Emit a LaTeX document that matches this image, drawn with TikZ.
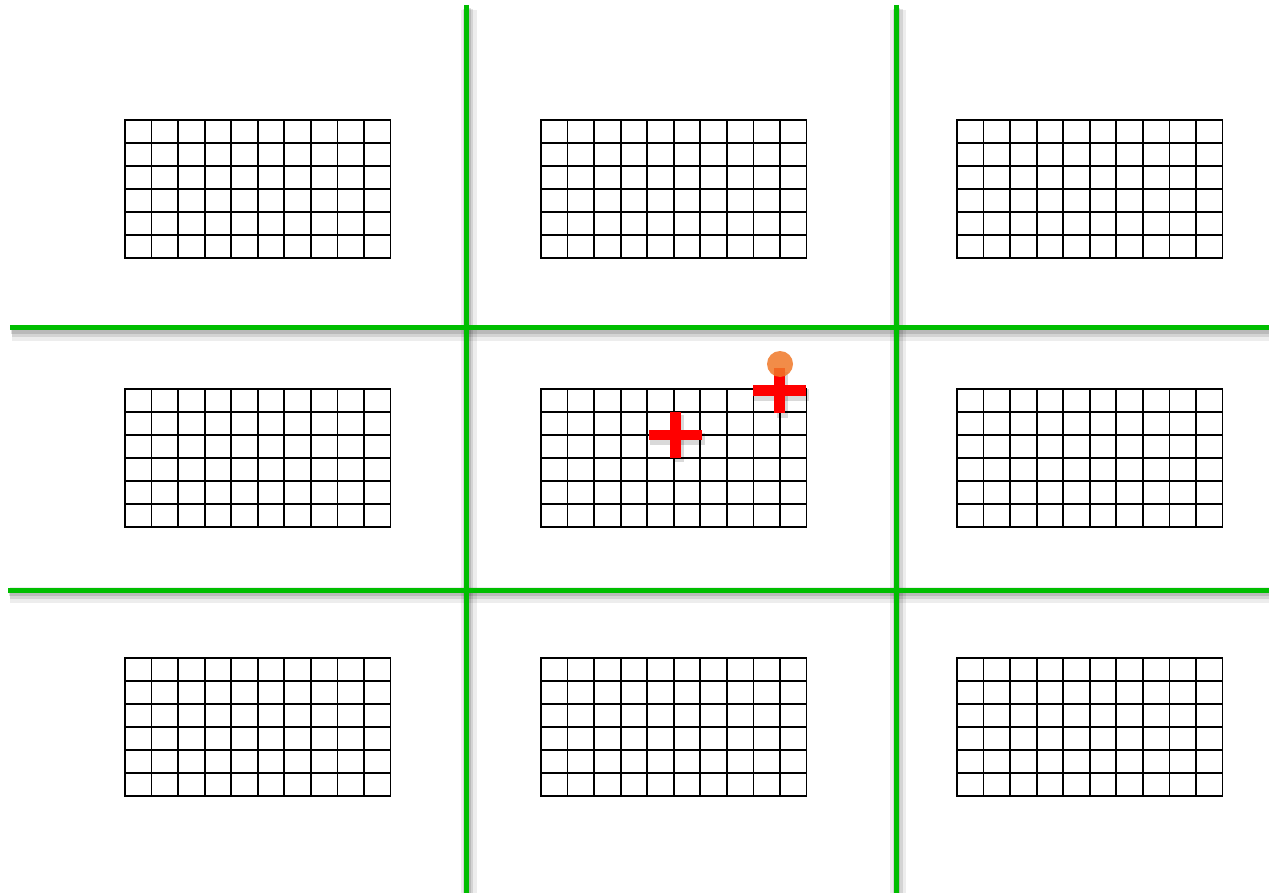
\documentclass[tikz,border=0pt]{standalone}
\begin{document}
\begin{tikzpicture}[x=1pt,y=-1pt,
  gridline/.style={black,line width=1.8pt},
  greenline/.style={draw={rgb,255:red,0;green,190;blue,0},line width=5pt},
  shadowA/.style={draw=black,opacity=0.07,line width=16pt},
  shadowB/.style={draw=black,opacity=0.10,line width=10pt},
  shadowC/.style={draw=black,opacity=0.12,line width=6pt},
  redbar/.style={fill={rgb,255:red,255;green,0;blue,0},draw=none},
  redshadow/.style={fill=black,opacity=0.15,draw=none},
  dotstyle/.style={fill={rgb,255:red,240;green,120;blue,40},fill opacity=0.85,draw=none}]
\useasboundingbox (0,0) rectangle (1269,893);
\fill[white] (0,0) rectangle (1269,893);
% grids
\foreach \gx in {125,541,957}{
  \foreach \gy in {120,389,658}{
    \foreach \i in {1,...,9}{
      \draw[gridline] (\gx+\i*26.55,\gy) -- ++(0,138);
    }
    \foreach \j in {1,...,5}{
      \draw[gridline] (\gx,\gy+\j*23) -- ++(265.5,0);
    }
    \draw[gridline] (\gx,\gy) rectangle ++(265.5,138);
  }
}
% green line shadows
\coordinate (v1t) at (466.5,5); \coordinate (v1b) at (466.5,893);
\coordinate (v2t) at (896,5); \coordinate (v2b) at (896,893);
\coordinate (h1l) at (10,328); \coordinate (h1r) at (1269,328);
\coordinate (h2l) at (8,590); \coordinate (h2r) at (1269,590);
\foreach \a/\b in {v1t/v1b,v2t/v2b,h1l/h1r,h2l/h2r}{
  \draw[shadowA] ([shift={(2,5)}]\a) -- ([shift={(2,5)}]\b);
  \draw[shadowB] ([shift={(1.5,4)}]\a) -- ([shift={(1.5,4)}]\b);
  \draw[shadowC] ([shift={(1,3)}]\a) -- ([shift={(1,3)}]\b);
}
% green lines
\draw[greenline] (v1t) -- (v1b);
\draw[greenline] (v2t) -- (v2b);
\draw[greenline] (h1l) -- (h1r);
\draw[greenline] (h2l) -- (h2r);
% cross 1
\coordinate (c1) at (675.5,435);
\fill[redshadow] ([shift={(-26,-2)}]c1) rectangle ([shift={(29,10)}]c1);
\fill[redshadow] ([shift={(-3,-20)}]c1) rectangle ([shift={(8,27)}]c1);
\fill[redbar] ([shift={(-26.5,-5)}]c1) rectangle ([shift={(26.5,5)}]c1);
\fill[redbar] ([shift={(-5.5,-23)}]c1) rectangle ([shift={(5.5,22.5)}]c1);
% cross 2
\coordinate (c2) at (779.5,390.5);
\fill[redshadow] ([shift={(-26,-2)}]c2) rectangle ([shift={(29,10)}]c2);
\fill[redshadow] ([shift={(-3,-19)}]c2) rectangle ([shift={(8,27)}]c2);
\fill[redbar] ([shift={(-26.5,-5.5)}]c2) rectangle ([shift={(26.5,5.5)}]c2);
\fill[redbar] ([shift={(-5.5,-22.5)}]c2) rectangle ([shift={(5.5,22.5)}]c2);
% orange dot
\node[circle,dotstyle,minimum size=26pt,inner sep=0pt] (dot) at (780,364) {};
\end{tikzpicture}
\end{document}
